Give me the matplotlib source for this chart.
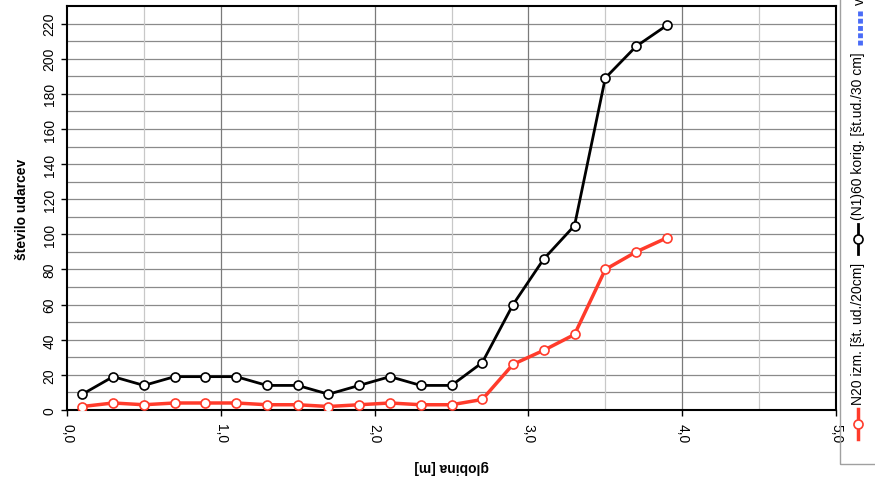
import numpy as np
import matplotlib.pyplot as plt
from matplotlib.lines import Line2D
from matplotlib.patches import Rectangle

plt.rcParams['font.family'] = ['Liberation Sans', 'DejaVu Sans']

# globina [m]
globina = [0.1, 0.3, 0.5, 0.7, 0.9, 1.1, 1.3, 1.5, 1.7, 1.9,
           2.1, 2.3, 2.5, 2.7, 2.9, 3.1, 3.3, 3.5, 3.7, 3.9]
# N20 izmerjeno
n20 = [2, 4, 3, 4, 4, 4, 3, 3, 2, 3,
       4, 3, 3, 6, 26, 34, 43, 80, 90, 98]
# (N1)60 korigirano
n60 = [9, 19, 14, 19, 19, 19, 14, 14, 9, 14,
       19, 14, 14, 27, 60, 86, 105, 189, 207, 219]

x_ticks = [0, 1, 2, 3, 4, 5]
x_labels = ['0,0', '1,0', '2,0', '3,0', '4,0', '5,0']
y_ticks = list(range(0, 221, 20))

rdeca = '#ff3b2b'

fig = plt.figure(figsize=(8.75, 4.81), dpi=100)
ax = fig.add_axes([0.0766, 0.1455, 0.8788, 0.8399])

# mreža
for yv in range(10, 230, 10):
    ax.axhline(yv, color='#8a8a8a', lw=0.9, zorder=1)
for xv in np.arange(0.5, 5.0, 0.5):
    c = '#7a7a7a' if abs(xv - round(xv)) < 1e-9 else '#c8c8c8'
    ax.axvline(xv, color=c, lw=0.9, zorder=1)

ax.plot(globina, n60, '-o', color='black', lw=2, ms=6.5,
        mfc='white', mec='black', mew=1.2, zorder=4)
ax.plot(globina, n20, '-o', color=rdeca, lw=2.5, ms=6.5,
        mfc='white', mec=rdeca, mew=1.2, zorder=3)

ax.set_xlim(0, 5)
ax.set_ylim(0, 230)
ax.set_xticks(x_ticks)
ax.set_xticklabels(x_labels, rotation=-90, fontsize=10)
ax.set_yticks(y_ticks)
ax.set_yticklabels([str(v) for v in y_ticks], rotation=90, va='center', fontsize=10)
ax.tick_params(direction='out', length=4, width=1)
ax.tick_params(axis='x', pad=5)
for s in ax.spines.values():
    s.set_linewidth(1.5)

ax.set_xlabel('globina [m]', fontsize=10, fontweight='bold', rotation=180, labelpad=12)
ax.set_ylabel('število udarcev', fontsize=10, fontweight='bold', labelpad=10)

# legenda (zasukana)
W, H = 875, 481
def fx(px):
    return px / W
def fy(py):
    return 1 - py / H

fig.patches.append(Rectangle((fx(840), fy(465)), fx(60), fy(-20) - fy(465),
                             transform=fig.transFigure, fill=False,
                             ec='#a0a0a0', lw=1))
fig.add_artist(Line2D([fx(858), fx(858)], [fy(440), fy(410)], color=rdeca, lw=2.5,
                      transform=fig.transFigure))
fig.add_artist(Line2D([fx(858)], [fy(425)], color=rdeca, marker='o', ms=6.5,
                      mfc='white', mec=rdeca, mew=1.2, transform=fig.transFigure))
fig.text(fx(858), fy(405), 'N20 izm. [št. ud./20cm]', rotation=90,
         ha='center', va='bottom', fontsize=10)
fig.add_artist(Line2D([fx(858), fx(858)], [fy(255), fy(225)], color='black', lw=2,
                      transform=fig.transFigure))
fig.add_artist(Line2D([fx(858)], [fy(240)], color='black', marker='o', ms=6.5,
                      mfc='white', mec='black', mew=1.2, transform=fig.transFigure))
fig.text(fx(858), fy(220), '(N1)60 korig. [št.ud./30 cm]', rotation=90,
         ha='center', va='bottom', fontsize=10)
fig.add_artist(Line2D([fx(860), fx(860)], [fy(46), fy(10)], color='#4a6cf7', lw=3.5,
                      ls=(0, (1, 0.5)), transform=fig.transFigure))
fig.text(fx(860), fy(5), 'voda', rotation=90, ha='center', va='bottom', fontsize=10)

fig.savefig('out.png', dpi=100)
